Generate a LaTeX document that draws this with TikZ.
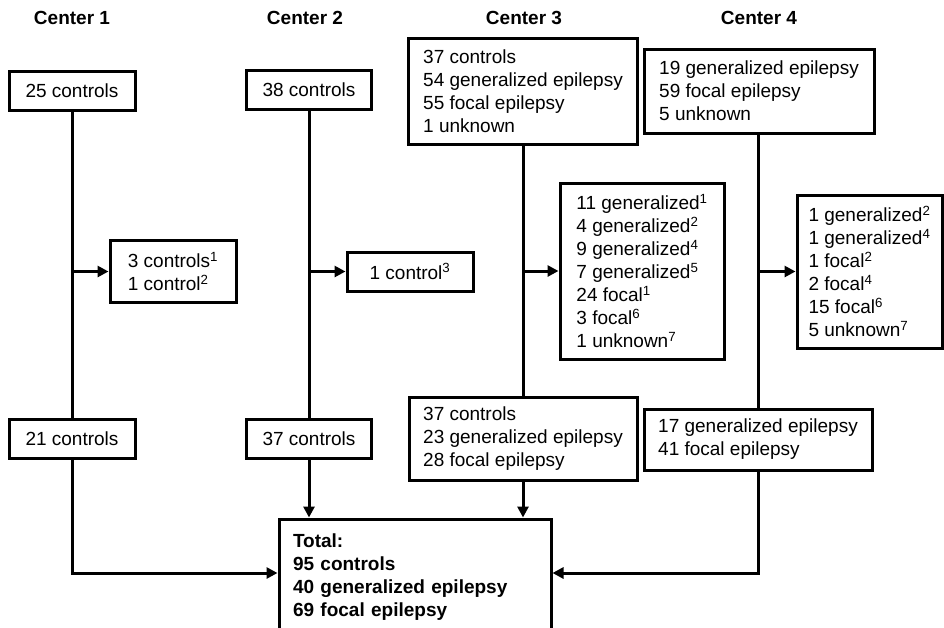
\documentclass[tikz,border=0pt]{standalone}
\usepackage{fontspec}
\setmainfont{Liberation Sans}
\usetikzlibrary{arrows.meta}

\begin{document}
\begin{tikzpicture}[x=1pt,y=-1pt,line width=3pt,
	box/.style={draw,rectangle,inner xsep=0pt,inner ysep=0pt,align=left,font=\fontsize{19}{23}\selectfont},
	head/.style={font=\fontsize{19}{23}\selectfont\bfseries},
	arr/.style={-{Triangle[length=11pt,width=11pt]}}]
	\useasboundingbox (0,0) rectangle (944,627);
	% headers
	\node (h1) at (72,18) [head] {Center 1};
	\node (h2) at (305,18) [head] {Center 2};
	\node (h3) at (524,18) [head] {Center 3};
	\node (h4) at (759,18) [head] {Center 4};
	% center 1
	\node (c1a) at (72,90.5) [box,minimum width=126pt,minimum height=39pt] {25 controls};
	\node (c1b) at (173,271.5) [box,minimum width=126pt,minimum height=62pt] {3 controls\textsuperscript{1}\\1 control\textsuperscript{2}};
	\node (c1c) at (72,438.5) [box,minimum width=126pt,minimum height=39pt] {21 controls};
	% center 2
	\node (c2a) at (309,89.5) [box,minimum width=125pt,minimum height=39pt] {38 controls};
	\node (c2b) at (410,271.5) [box,minimum width=126pt,minimum height=39pt] {1 control\textsuperscript{3}};
	\node (c2c) at (309,438.5) [box,minimum width=125pt,minimum height=39pt] {37 controls};
	% center 3
	\node (c3a) at (523,91) [box,minimum width=229pt,minimum height=106pt] {37 controls\\54 generalized epilepsy\\55 focal epilepsy\\1 unknown};
	\node (c3b) at (642,271) [box,minimum width=164pt,minimum height=176pt] {11 generalized\textsuperscript{1}\\4 generalized\textsuperscript{2}\\9 generalized\textsuperscript{4}\\7 generalized\textsuperscript{5}\\24 focal\textsuperscript{1}\\3 focal\textsuperscript{6}\\1 unknown\textsuperscript{7}};
	\node (c3c) at (523,438.5) [box,minimum width=228pt,minimum height=83pt] {37 controls\\23 generalized epilepsy\\28 focal epilepsy};
	% center 4
	\node (c4a) at (759,91) [box,minimum width=230pt,minimum height=84pt] {19 generalized epilepsy\\59 focal epilepsy\\5 unknown};
	\node (c4b) at (869.5,271.5) [box,minimum width=145pt,minimum height=153pt] {1 generalized\textsuperscript{2}\\1 generalized\textsuperscript{4}\\1 focal\textsuperscript{2}\\2 focal\textsuperscript{4}\\15 focal\textsuperscript{6}\\5 unknown\textsuperscript{7}};
	\node (c4c) at (758,439.5) [box,minimum width=228pt,minimum height=61pt] {17 generalized epilepsy\\41 focal epilepsy};
	% total
	\node (tot) at (415,577) [box,inner xsep=14pt,text width=244pt,minimum height=116pt,font=\fontsize{19}{23}\selectfont\bfseries] {Total:\\95 controls\\40 generalized epilepsy\\69 focal epilepsy};
	% connectors
	\draw (c1a) -- (c1c);
	\draw (c2a) -- (c2c);
	\draw (c3a) -- (c3c);
	\draw (c4a.south -| c4c) -- (c4c);
	\draw [arr] (c1a |- c1b) -- (c1b);
	\draw [arr] (c2a |- c2b) -- (c2b);
	\draw [arr] (c3a |- c3b) -- (c3b);
	\draw [arr] (c4c |- c4b) -- (c4b);
	\draw [arr] (c1c) |- (tot.west |- 0,573);
	\draw [arr] (c2c) -- (c2c |- tot.north);
	\draw [arr] (c3c) -- (c3c |- tot.north);
	\draw [arr] (c4c) |- (tot.east |- 0,573);
\end{tikzpicture}
\end{document}
